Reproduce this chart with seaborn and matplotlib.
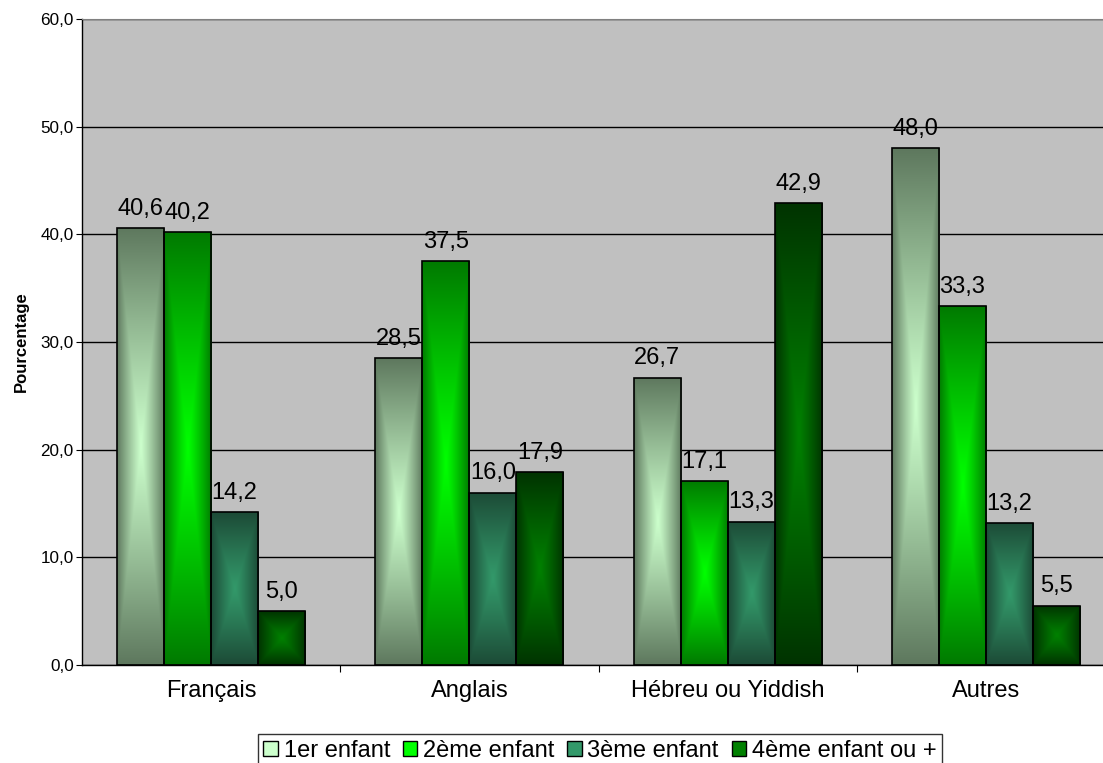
import numpy as np
import pandas as pd
import seaborn as sns
import matplotlib.pyplot as plt
from matplotlib.colors import to_rgb
from matplotlib.patches import Patch
from matplotlib.ticker import FuncFormatter, FixedLocator

'''------------------------------ Data -----------------------------------'''
categories = ['Français', 'Anglais', 'Hébreu ou Yiddish', 'Autres']
series_names = ['1er enfant', '2ème enfant', '3ème enfant', '4ème enfant ou +']
enfant_1 = [40.6, 28.5, 26.7, 48.0]
enfant_2 = [40.2, 37.5, 17.1, 33.3]
enfant_3 = [14.2, 16.0, 13.3, 13.2]
enfant_4 = [5.0, 17.9, 42.9, 5.5]

# (edge colour, centre colour) for the gradient fills
grad_colours = [('#5E785E', '#CCFFCC'),
                ('#007A00', '#00FF00'),
                ('#1C4A36', '#33996A'),
                ('#003300', '#008000')]

df = pd.DataFrame({'langue': categories * 4,
                   'serie': np.repeat(series_names, 4),
                   'valeur': enfant_1 + enfant_2 + enfant_3 + enfant_4})

'''------------------------------ Plot -----------------------------------'''
sns.set_style("white")
plt.rcParams['font.family'] = ['Liberation Sans', 'DejaVu Sans']
plt.rcParams['text.color'] = 'black'
plt.rcParams['xtick.color'] = 'black'
plt.rcParams['ytick.color'] = 'black'
plt.rcParams['axes.labelcolor'] = 'black'

fig = plt.figure(figsize=(11.03, 7.63), dpi=100)
# plot area runs a little past the right edge of the picture, as in the original
ax = fig.add_axes([82 / 1103, 98 / 763, (1115 - 82) / 1103, 646 / 763])
ax.set_facecolor('#C0C0C0')

sns.barplot(data=df, x='langue', y='valeur', hue='serie', order=categories,
            hue_order=series_names, width=0.728, gap=0, ax=ax,
            palette=[c[1] for c in grad_colours], edgecolor='black',
            linewidth=1.2, legend=False, errorbar=None)


def gradient(edge, centre, n=200):
  e = np.array(to_rgb(edge))
  c = np.array(to_rgb(centre))
  u = np.linspace(-1, 1, n)
  xx, yy = np.meshgrid(u, u)
  t = np.maximum(np.abs(xx), np.abs(yy)) ** 1.1
  return c * (1 - t[..., None]) + e * t[..., None]


for cont, (edge, centre), vals in zip(ax.containers, grad_colours,
                                       [enfant_1, enfant_2, enfant_3, enfant_4]):
  img = gradient(edge, centre)
  for bar in cont:
    x0, y0 = bar.get_x(), bar.get_y()
    w, h = bar.get_width(), bar.get_height()
    im = ax.imshow(img, extent=[x0, x0 + w, y0, y0 + h], aspect='auto',
                   zorder=2, interpolation='bilinear')
    im.set_clip_path(bar)
    bar.set_facecolor('none')
    bar.set_zorder(3)
  ax.bar_label(cont, labels=[('%.1f' % v).replace('.', ',') for v in vals],
               padding=6, fontsize=17, zorder=4)

ax.set_xlim(-0.5, 3.5)
ax.set_ylim(0, 60)
ax.set_yticks(range(0, 61, 10))
ax.yaxis.set_major_formatter(FuncFormatter(lambda v, p: ('%.1f' % v).replace('.', ',')))
ax.grid(axis='y', color='black', linewidth=1)
ax.set_axisbelow(True)

ax.xaxis.set_minor_locator(FixedLocator([0.5, 1.5, 2.5]))
ax.tick_params(axis='x', which='major', length=0, pad=11, labelsize=17)
ax.tick_params(axis='x', which='minor', length=5, width=0.8, direction='out', bottom=True)
ax.tick_params(axis='y', length=4, width=0.8, direction='out', left=True, labelsize=12.3, pad=2)

for s in ['left', 'bottom']:
  ax.spines[s].set_color('black')
  ax.spines[s].set_linewidth(1)
ax.spines['top'].set_color('#808080')
ax.spines['right'].set_visible(False)

ax.set_xlabel('')
ax.set_ylabel('Pourcentage', fontsize=12, fontweight='bold')
ax.yaxis.set_label_coords(-0.051, 0.5)

handles = [Patch(facecolor=c[1], edgecolor='black', linewidth=1) for c in grad_colours]
fig.legend(handles, series_names, loc='upper center', bbox_to_anchor=(600 / 1103, 29 / 763),
           ncol=4, frameon=True, fancybox=False, edgecolor='black', fontsize=17,
           handlelength=0.6, handleheight=0.6, handletextpad=0.25, columnspacing=0.55,
           borderpad=0.25, borderaxespad=0)

fig.savefig('out.png', dpi=100)
